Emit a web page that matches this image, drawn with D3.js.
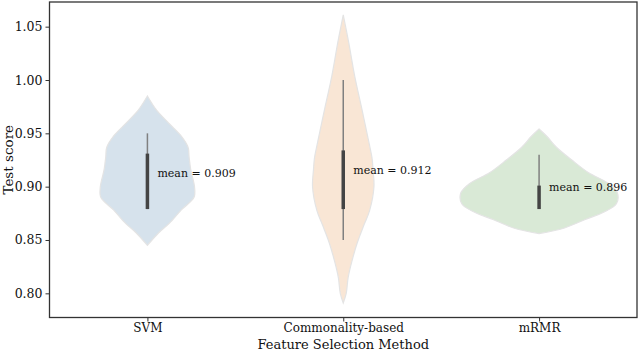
<!DOCTYPE html>
<html>
<head>
<meta charset="utf-8">
<script src="https://cdn.jsdelivr.net/npm/d3@7"></script>
<style>
  body { margin: 0; background: #fff; }
  svg { display: block; font-family: "DejaVu Serif", serif; }
</style>
</head>
<body>
<svg id="chart" width="640" height="350"></svg>
<script>
// categories and tick values
const methods = ["SVM", "Commonality-based", "mRMR"];
const yTicks = [0.80, 0.85, 0.90, 0.95, 1.00, 1.05];

// violin outlines: score value and relative density
const svmScore = [0.845, 0.857, 0.866, 0.878, 0.890, 0.900, 0.916, 0.928, 0.937, 0.947, 0.960, 0.972, 0.985];
const svmDensity = [0, 0.148, 0.285, 0.43, 0.595, 0.601, 0.553, 0.532, 0.519, 0.437, 0.266, 0.114, 0];
const commScore = [0.791, 0.800, 0.815, 0.831, 0.847, 0.862, 0.878, 0.900, 0.916, 0.927, 0.941, 0.972, 1.003, 1.035, 1.061];
const commDensity = [0, 0.038, 0.063, 0.114, 0.177, 0.253, 0.338, 0.392, 0.38, 0.367, 0.329, 0.24, 0.148, 0.07, 0];
const mrmrScore = [0.856, 0.861, 0.869, 0.876, 0.884, 0.894, 0.903, 0.913, 0.925, 0.937, 0.947, 0.954];
const mrmrDensity = [0, 0.316, 0.582, 0.823, 0.987, 1, 0.886, 0.633, 0.418, 0.222, 0.101, 0];

// inner box plot stats
const whiskerLow = [0.879, 0.850, 0.879];
const q1 = [0.879, 0.879, 0.879];
const q3 = [0.931, 0.934, 0.901];
const whiskerHigh = [0.950, 1.000, 0.930];
const means = [0.909, 0.912, 0.896];

const fills = ["#d6e2ec", "#f9e6d5", "#d9e9d6"];

const violins = [
  { score: svmScore, density: svmDensity },
  { score: commScore, density: commDensity },
  { score: mrmrScore, density: mrmrDensity },
];

const svg = d3.select("#chart");
const margin = { top: 2, right: 3, bottom: 32.5, left: 49.5 };
const width = 640, height = 350;

const x = d3.scaleLinear()
  .domain([-0.5, 2.5])
  .range([margin.left, width - margin.right]);

const y = d3.scaleLinear()
  .domain([0.8, 1.05])
  .range([293.33, 26.67]);

// half width of violin in category units
const w = d3.scaleLinear().domain([0, 1]).range([0, 0.4]);

violins.forEach((v, i) => {
  const pts = v.score.map((s, k) => ({ s, d: v.density[k] }));
  const area = d3.area()
    .curve(d3.curveCatmullRom)
    .y((d) => y(d.s))
    .x0((d) => x(i - w(d.d)))
    .x1((d) => x(i + w(d.d)));
  svg.append("path")
    .datum(pts)
    .attr("d", area)
    .attr("fill", fills[i])
    .attr("stroke", "#e4e4e4")
    .attr("stroke-width", 1.2);
});

// whiskers
svg.append("g").selectAll("line")
  .data(methods)
  .join("line")
  .attr("x1", (d, i) => x(i))
  .attr("x2", (d, i) => x(i))
  .attr("y1", (d, i) => y(whiskerLow[i]))
  .attr("y2", (d, i) => y(whiskerHigh[i]))
  .attr("stroke", "#808080")
  .attr("stroke-width", 1.5);

// boxes
svg.append("g").selectAll("line")
  .data(methods)
  .join("line")
  .attr("x1", (d, i) => x(i))
  .attr("x2", (d, i) => x(i))
  .attr("y1", (d, i) => y(q1[i]))
  .attr("y2", (d, i) => y(q3[i]))
  .attr("stroke", "#444")
  .attr("stroke-width", 3.5);

// mean labels
svg.append("g").selectAll("text")
  .data(methods)
  .join("text")
  .attr("x", (d, i) => x(i) + 10)
  .attr("y", (d, i) => y(means[i]))
  .attr("font-size", 11)
  .attr("fill", "#111")
  .text((d, i) => `mean = ${means[i].toFixed(3)}`);

// axes
const yAxis = svg.append("g")
  .attr("transform", `translate(${margin.left},0)`)
  .call(d3.axisLeft(y).tickValues(yTicks).tickFormat(d3.format(".2f")).tickSize(4).tickPadding(3));
yAxis.select(".domain").remove();
yAxis.selectAll("text").attr("font-size", 12.5).attr("font-family", "DejaVu Serif").attr("fill", "#111");
yAxis.selectAll("line").attr("stroke", "#333");

const xAxis = svg.append("g")
  .attr("transform", `translate(0,${height - margin.bottom})`)
  .call(d3.axisBottom(x).tickValues([0, 1, 2]).tickFormat((d) => methods[d]).tickSize(4).tickPadding(2));
xAxis.select(".domain").remove();
xAxis.selectAll("text").attr("font-size", 12).attr("font-family", "DejaVu Serif").attr("fill", "#111");
xAxis.selectAll("line").attr("stroke", "#333");

// frame
svg.append("rect")
  .attr("x", margin.left)
  .attr("y", margin.top)
  .attr("width", width - margin.right - margin.left)
  .attr("height", height - margin.bottom - margin.top)
  .attr("fill", "none")
  .attr("stroke", "#333")
  .attr("stroke-width", 1.3);

// axis titles
svg.append("text")
  .attr("x", (margin.left + width - margin.right) / 2)
  .attr("y", 348.5)
  .attr("text-anchor", "middle")
  .attr("font-size", 13)
  .attr("fill", "#111")
  .text("Feature Selection Method");

svg.append("text")
  .attr("transform", `translate(13,${(margin.top + height - margin.bottom) / 2}) rotate(-90)`)
  .attr("text-anchor", "middle")
  .attr("font-size", 13.5)
  .attr("fill", "#111")
  .text("Test score");
</script>
</body>
</html>
